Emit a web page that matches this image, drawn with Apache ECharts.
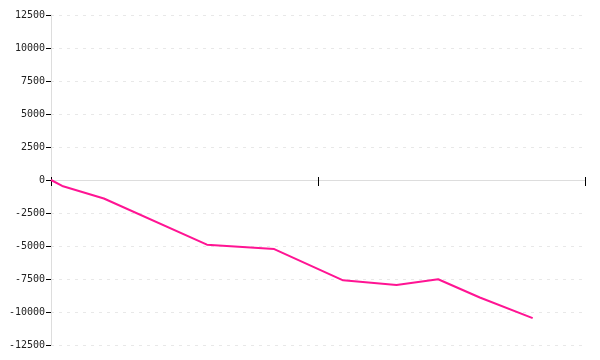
<!DOCTYPE html>
<html><head><meta charset="utf-8">
<script src="https://cdn.jsdelivr.net/npm/echarts@6/dist/echarts.min.js"></script>
<style>html,body{margin:0;padding:0;background:#fff}#c{width:600px;height:360px}</style>
</head><body><div id="c"></div>
<script>
const xValues = [0, 2.1, 9.9, 29.2, 41.8, 54.7, 64.7, 72.5, 80.3, 90.2];
const yValues = [0, -450, -1400, -4900, -5230, -7600, -7950, -7520, -8900, -10460];
const yTicks = [-12500, -10000, -7500, -5000, -2500, 0, 2500, 5000, 7500, 10000, 12500];

const gridBox = {left: 51, right: 15, top: 15, bottom: 15, containLabel: false};
const chart = echarts.init(document.getElementById('c'));
chart.setOption({
  animation: false,
  grid: [Object.assign({}, gridBox), Object.assign({}, gridBox)],
  xAxis: [{
    gridIndex: 0, type: 'value', min: 0, max: 100, interval: 50,
    axisLine: {onZero: true, lineStyle: {color: '#dddddd', width: 1}},
    axisTick: {show: true, length: 6, lineStyle: {color: '#000'}},
    axisLabel: {show: false},
    splitLine: {show: false}
  }, {
    gridIndex: 1, type: 'value', min: 0, max: 100, interval: 50,
    axisLine: {onZero: true, show: false},
    axisTick: {show: true, inside: true, length: 3, lineStyle: {color: '#000'}},
    axisLabel: {show: false},
    splitLine: {show: false}
  }],
  yAxis: [{
    gridIndex: 0, type: 'value', min: yTicks[0], max: yTicks[yTicks.length - 1], interval: 2500,
    axisLine: {show: true, onZero: false, lineStyle: {color: '#dddddd'}},
    axisTick: {show: true, length: 5, lineStyle: {color: '#000'}},
    axisLabel: {color: '#222', fontFamily: 'DejaVu Sans Mono', fontSize: 10, margin: 6,
      formatter: v => String(v)},
    splitLine: {show: true, lineStyle: {color: '#e8e8e8', type: [3, 5]}}
  }, {
    gridIndex: 1, type: 'value', min: yTicks[0], max: yTicks[yTicks.length - 1], interval: 2500,
    show: false
  }],
  series: [{
    type: 'line', xAxisIndex: 0, yAxisIndex: 0,
    data: xValues.map((x, i) => [x, yValues[i]]),
    showSymbol: false, lineStyle: {color: '#ff1493', width: 2}, itemStyle: {color: '#ff1493'}
  }]
});
</script></body></html>
